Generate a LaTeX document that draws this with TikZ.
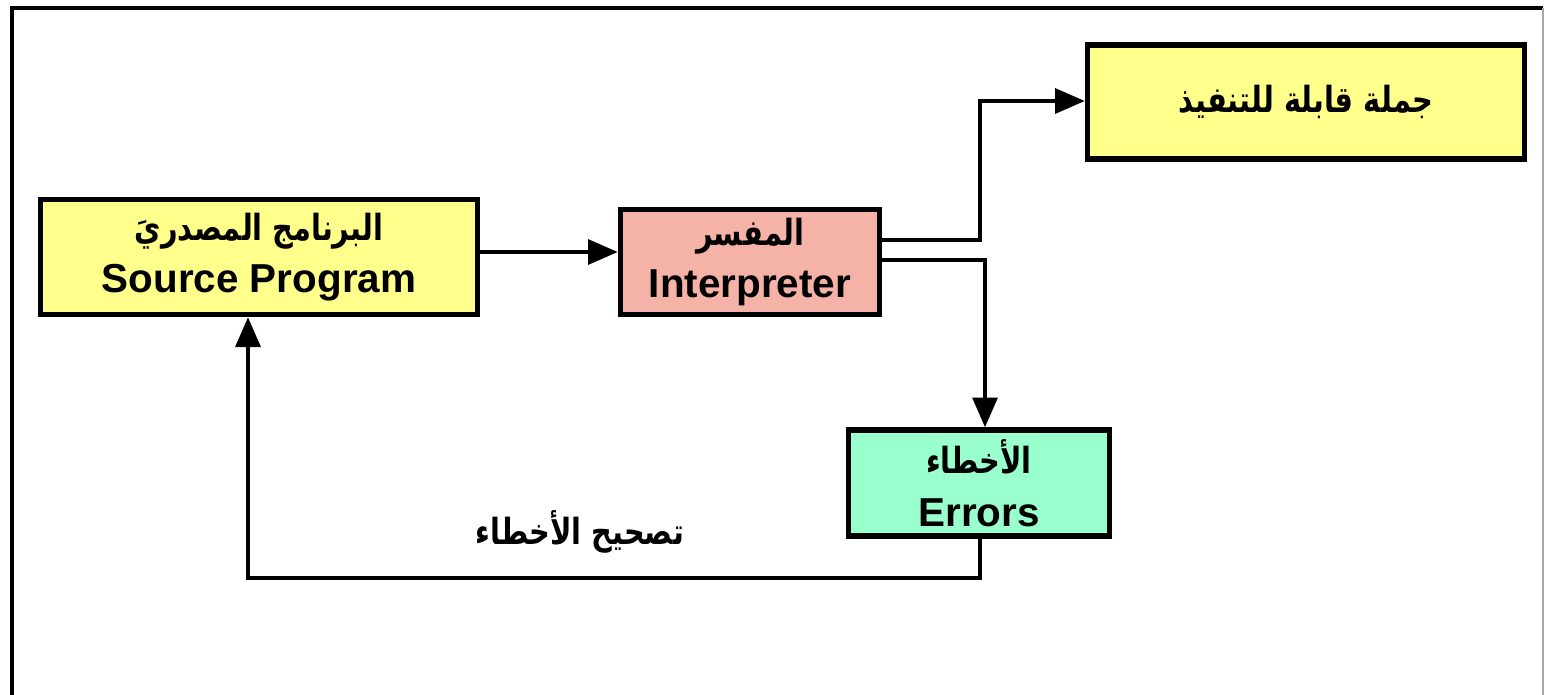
\documentclass[tikz,border=0pt]{standalone}
\usepackage{fontspec}
\setmainfont{Liberation Sans}
\newfontfamily\arabicfont[Script=Arabic,FakeStretch=0.8]{DejaVu Sans}
\TeXXeTstate=1
\usetikzlibrary{arrows.meta}

\definecolor{srcyellow}{RGB}{255,255,140}
\definecolor{interpsalmon}{RGB}{245,178,166}
\definecolor{errmint}{RGB}{153,255,204}

\newcommand{\artxt}[1]{{\arabicfont\bfseries\fontsize{20.5}{27}\selectfont\beginR #1\endR}}

\tikzset{
  block/.style={draw, line width=3pt, align=center, inner sep=0pt,
    font=\bfseries\fontsize{23}{30}\selectfont},
  flow/.style={line width=2.6pt, -{Triangle[length=17pt,width=14pt]}},
}

\begin{document}
\begin{tikzpicture}[x=0.02cm, y=-0.02cm]
  \useasboundingbox (0,0) rectangle (1544,694);
  % frame
  \draw[line width=2.2pt] (12,720) -- (12,8) -- (1543,8);
  \draw[line width=0.8pt, black!35] (1543,8) -- (1543,720);
  % blocks
  \draw
    (259,257) node[block, fill=srcyellow, minimum width=8.74cm, minimum height=2.3cm] (src)
      {\artxt{البرنامج المصدريَ}\\Source Program}
    (750,262) node[block, fill=interpsalmon, minimum width=5.18cm, minimum height=2.1cm] (interp)
      {\artxt{المفسر}\\Interpreter}
    (1306,102) node[block, fill=srcyellow, minimum width=8.74cm, minimum height=2.28cm] (exec)
      {\artxt{جملة قابلة للتنفيذ}}
    (979,483) node[block, fill=errmint, minimum width=5.22cm, minimum height=2.12cm] (err)
      {\artxt{الأخطاء}\\Errors}
    (580,532) node (fix) {\artxt{تصحيح الأخطاء}};
  % connectors
  \begin{scope}[flow]
    \draw (src.east |- 0,252) to (interp.west |- 0,252);
    \draw (interp.east |- 0,240) -| (980,101) to (exec.west |- 0,101);
    \draw (interp.east |- 0,260) -| (err.north -| 985,0);
    \draw (err.south -| 980,0) |- (248,578) to (src.south -| 248,0);
  \end{scope}
\end{tikzpicture}
\end{document}
